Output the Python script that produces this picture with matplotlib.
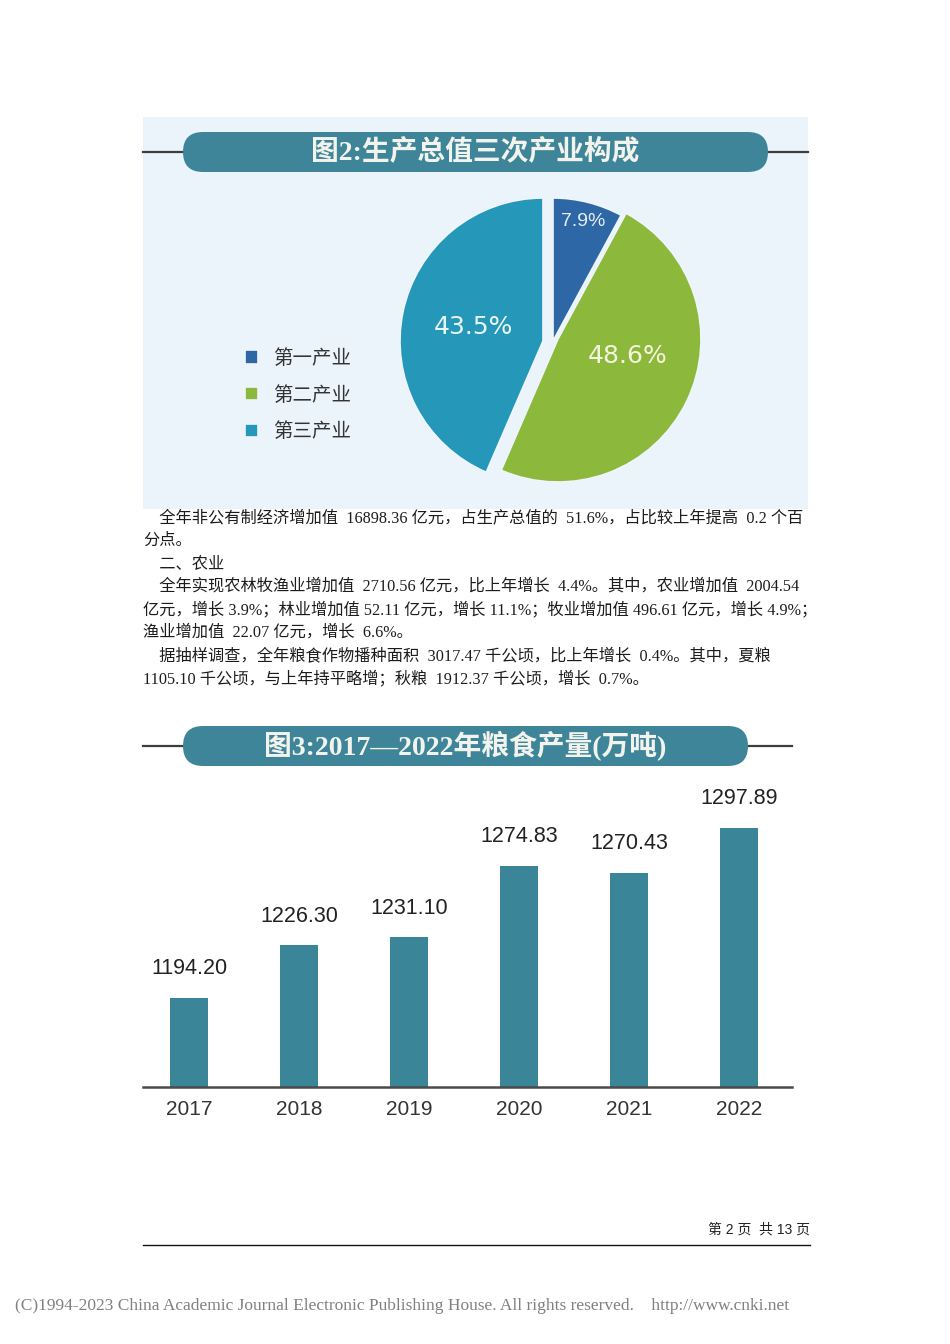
import numpy as np
import matplotlib
matplotlib.use("Agg")
import matplotlib.pyplot as plt
from matplotlib.patches import FancyBboxPatch, Rectangle

# pie data
sectors = ["第一产业", "第二产业", "第三产业"]
shares = [7.9, 48.6, 43.5]
sector_colors = ["#2d67a6", "#8cb83c", "#2597b9"]

# bar data
years = ["2017", "2018", "2019", "2020", "2021", "2022"]
grain = [1194.20, 1226.30, 1231.10, 1274.83, 1270.43, 1297.89]

pie_title = "图2:生产总值三次产业构成"
bar_title = "图3:2017—2022年粮食产量(万吨)"

body_lines = [
    "　全年非公有制经济增加值  16898.36 亿元，占生产总值的  51.6%，占比较上年提高  0.2 个百",
    "分点。",
    "　二、农业",
    "　全年实现农林牧渔业增加值  2710.56 亿元，比上年增长  4.4%。其中，农业增加值  2004.54",
    "亿元，增长 3.9%；林业增加值 52.11 亿元，增长 11.1%；牧业增加值 496.61 亿元，增长 4.9%；",
    "渔业增加值  22.07 亿元，增长  6.6%。",
    "　据抽样调查，全年粮食作物播种面积  3017.47 千公顷，比上年增长  0.4%。其中，夏粮",
    "1105.10 千公顷，与上年持平略增；秋粮  1912.37 千公顷，增长  0.7%。",
]

page_label = "第 2 页  共 13 页"
copyright_text = "(C)1994-2023 China Academic Journal Electronic Publishing House. All rights reserved.    http://www.cnki.net"

W, H = 950, 1344
CJK = ["Noto Sans CJK SC", "DejaVu Sans"]
SERIF_CJK = ["Liberation Serif", "Noto Sans CJK SC"]
BANNER = "#3f8599"


def fx(px):
    return px / W


def fy(py):
    return 1 - py / H


fig = plt.figure(figsize=(9.5, 13.44), dpi=100)
fig.patch.set_facecolor("white")

# page layer in pixel coordinates
page = fig.add_axes([0, 0, 1, 1])
page.set_xlim(0, W)
page.set_ylim(H, 0)
page.axis("off")

# pie panel background
page.add_patch(Rectangle((143, 117), 665, 392, fc="#eaf4fa", ec="none", zorder=3))


def banner(y, x0, x1, line_end, text):
    page.plot([143, line_end], [y, y], color="#3d3d3d", lw=1.6, zorder=4)
    h = 40
    page.add_patch(FancyBboxPatch((x0, y - h / 2), x1 - x0, h,
                                  boxstyle="round,pad=0,rounding_size=20",
                                  fc=BANNER, ec="none", zorder=5))
    page.text((x0 + x1) / 2, y, text, ha="center", va="center", fontsize=20,
              fontweight="bold", color="#f2f3ec", family=SERIF_CJK, zorder=6)


banner(152, 183, 768, 808, pie_title)
banner(746, 183, 748, 792, bar_title)

# body text
for i, line in enumerate(body_lines):
    page.text(143, 518 + i * 23.0, line, ha="left", va="center", fontsize=11.7,
              color="#1c1c1c", family=SERIF_CJK, zorder=2)

# footer
page.text(810, 1229, page_label, ha="right", va="center", fontsize=10,
          color="#222222", family=["Liberation Sans", "Noto Sans CJK SC"])
page.plot([143, 810], [1245, 1245], color="#111111", lw=1.0)
page.text(15, 1306, copyright_text, ha="left", va="center", fontsize=12.5,
          color="#808080", family="Liberation Serif")

# pie chart
cx, cy, r = 543, 341, 143
ax_p = fig.add_axes([fx(cx - 160), fy(cy + 160), 320 / W, 320 / H])
ax_p.set_zorder(5)
wedges, texts, autotexts = ax_p.pie(
    shares, colors=sector_colors, startangle=90, counterclock=False,
    autopct=lambda p: f"{p:.1f}%",
    wedgeprops=dict(edgecolor="#eef6fb", linewidth=1.2))
ax_p.set_xlim(-160 / r, 160 / r)
ax_p.set_ylim(-160 / r, 160 / r)

offsets = [(10 / r, 0.0), (15 / r, 2 / r), (0.0, 0.0)]
dists = [0.86, 0.5, 0.5]
nudges = [0, 12, 0]
for w, t, (dx, dy), d, nd in zip(wedges, autotexts, offsets, dists, nudges):
    w.set_center((dx, dy))
    mid = np.deg2rad((w.theta1 + w.theta2) / 2 + nd)
    t.set_position((dx + d * np.cos(mid), dy + d * np.sin(mid)))
autotexts[0].set(fontsize=14, family="Liberation Sans", color="#e6edf6")
autotexts[1].set(fontsize=18, family="DejaVu Sans", color="#f3f5dc")
autotexts[2].set(fontsize=18, family="DejaVu Sans", color="#e8f6f8")

ax_p.legend(wedges, sectors, loc="center left",
            bbox_to_anchor=(fx(245), fy(395)), bbox_transform=fig.transFigure,
            frameon=False, prop={"family": CJK, "size": 14},
            handlelength=0.68, handleheight=0.68, handletextpad=0.75,
            labelspacing=0.8, borderpad=0, borderaxespad=0, labelcolor="#333333")

# bar chart
ax_b = fig.add_axes([fx(143), fy(1087), 649 / W, (1087 - 790) / H])
ax_b.set_facecolor("none")
x = np.arange(len(years))
ax_b.bar(x, grain, width=0.345, color="#3a8598")
ax_b.set_xlim(-46 / 110, len(years) - 1 + 53 / 110)
ax_b.set_ylim(1139.9, 1139.9 + 297 / 1.64)
for side in ["top", "left", "right"]:
    ax_b.spines[side].set_visible(False)
ax_b.spines["bottom"].set_linewidth(1.8)
ax_b.spines["bottom"].set_color("#4a4a4a")
ax_b.set_yticks([])
ax_b.set_xticks(x)
ax_b.set_xticklabels(years, fontsize=15, family="Liberation Sans", color="#333333")
ax_b.tick_params(axis="x", length=0, pad=9.5)
for xi, v in zip(x, grain):
    ax_b.annotate(f"{v:.2f}", (xi, v), xytext=(0, 21), textcoords="offset points",
                  ha="center", va="center", fontsize=15.5, family="Liberation Sans",
                  color="#222222", annotation_clip=False)

fig.savefig("out.png", dpi=100)
